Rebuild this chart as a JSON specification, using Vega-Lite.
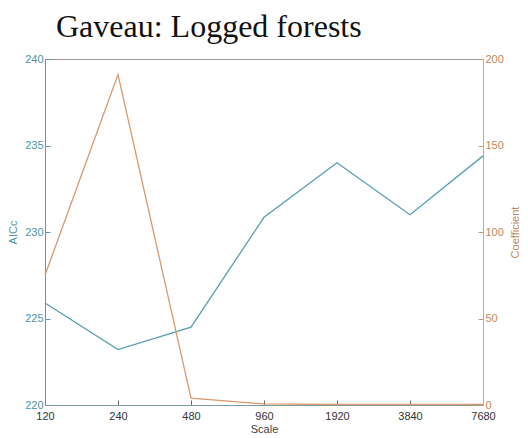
{
  "$schema": "https://vega.github.io/schema/vega-lite/v6.json",
  "autosize": "none",
  "width": 438,
  "height": 346,
  "padding": {"left": 45, "top": 59, "right": 45, "bottom": 33},
  "background": "white",
  "title": {
    "text": "Gaveau: Logged forests",
    "anchor": "start",
    "frame": "group",
    "dx": 11,
    "offset": 9,
    "font": "Liberation Serif",
    "fontSize": 32,
    "fontWeight": "normal",
    "color": "#111111"
  },
  "config": {
    "view": {"stroke": "#999999", "strokeWidth": 1},
    "axis": {"grid": false, "labelFont": "Liberation Sans", "titleFont": "Liberation Sans", "labelFontSize": 11, "titleFontSize": 11, "titleFontWeight": "normal"}
  },
  "data": {
    "values": [
      {"scale": "120", "aicc": 225.9, "coef": 75},
      {"scale": "240", "aicc": 223.2, "coef": 191},
      {"scale": "480", "aicc": 224.5, "coef": 4},
      {"scale": "960", "aicc": 230.85, "coef": 0.6},
      {"scale": "1920", "aicc": 234.0, "coef": 0.3},
      {"scale": "3840", "aicc": 231.0, "coef": 0.3},
      {"scale": "7680", "aicc": 234.4, "coef": 0.3}
    ]
  },
  "encoding": {
    "x": {
      "field": "scale",
      "type": "ordinal",
      "sort": null,
      "scale": {"type": "point", "padding": 0},
      "axis": {
        "title": "Scale",
        "labelAngle": 0,
        "domainColor": "#7a9aa5",
        "tickColor": "#666666",
        "tickSize": -5,
        "labelPadding": 10,
        "labelColor": "#333333",
        "titleColor": "#444444",
        "titlePadding": 2
      }
    }
  },
  "layer": [
    {
      "mark": {"type": "line", "color": "#5a9db2", "strokeWidth": 1.3},
      "encoding": {
        "y": {
          "field": "aicc",
          "type": "quantitative",
          "scale": {"domain": [220, 240], "nice": false, "zero": false},
          "axis": {
            "title": "AICc",
            "orient": "left",
            "values": [220, 225, 230, 235, 240],
            "domainColor": "#5a9db2",
            "tickColor": "#5a9db2",
            "labelColor": "#4f93a8",
            "titleColor": "#4f93a8",
            "tickSize": -5,
            "labelPadding": 7,
            "titlePadding": 6
          }
        }
      }
    },
    {
      "mark": {"type": "line", "color": "#d59a70", "strokeWidth": 1.3},
      "encoding": {
        "y": {
          "field": "coef",
          "type": "quantitative",
          "scale": {"domain": [0, 200], "nice": false},
          "axis": {
            "title": "Coefficient",
            "orient": "right",
            "titleAngle": 270,
            "titleBaseline": "top",
            "values": [0, 50, 100, 150, 200],
            "domainColor": "#d2a584",
            "tickColor": "#c9946e",
            "labelColor": "#c08860",
            "titleColor": "#c08860",
            "tickSize": -5,
            "labelPadding": 7,
            "titlePadding": 6
          }
        }
      }
    }
  ],
  "resolve": {"scale": {"y": "independent"}}
}
